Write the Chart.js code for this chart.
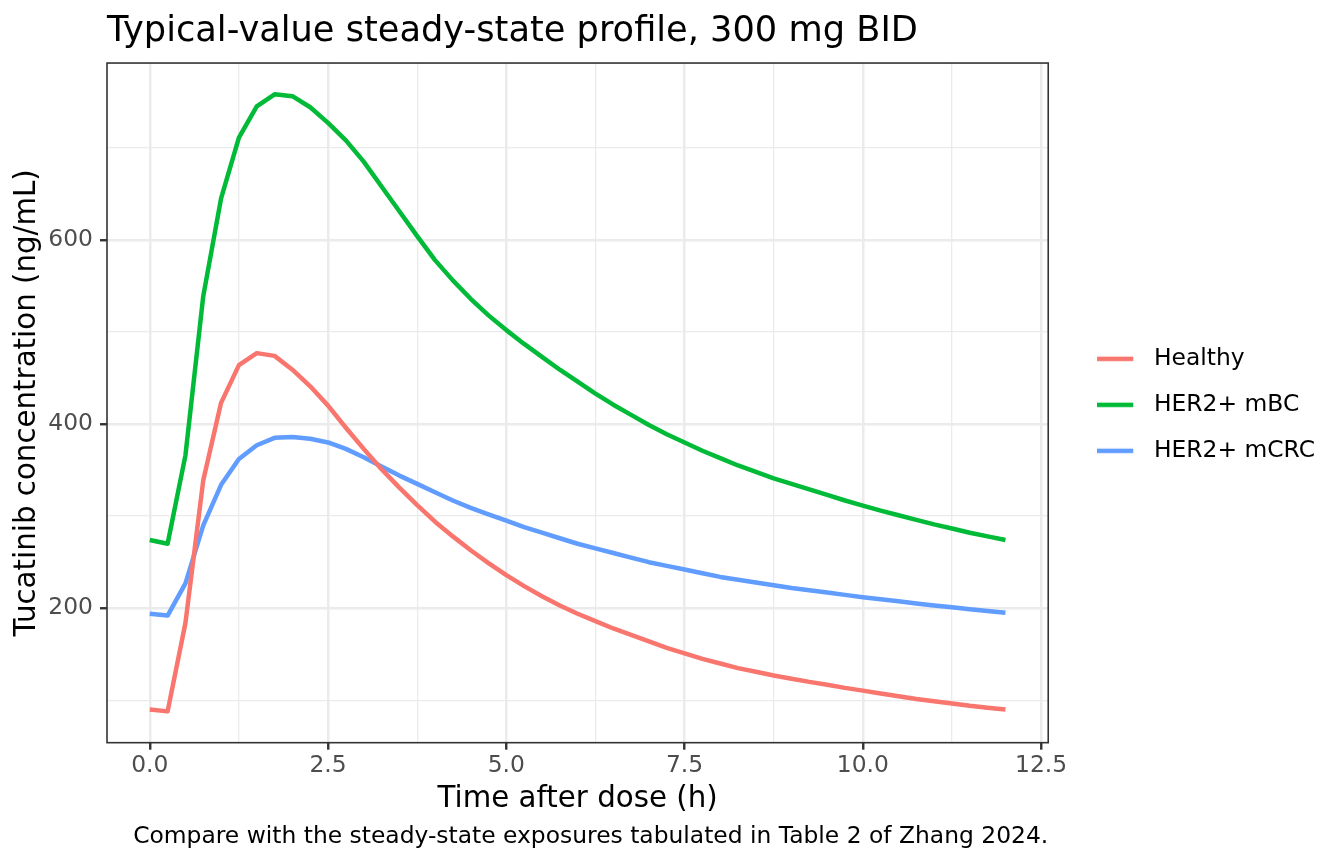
<!DOCTYPE html>
<html>
<head>
<meta charset="utf-8">
<script src="https://cdn.jsdelivr.net/npm/chart.js@4.4.1/dist/chart.umd.min.js"></script>
<style>
  html, body { margin: 0; padding: 0; background: #ffffff; }
  #wrap { width: 1344px; height: 864px; }
</style>
</head>
<body>
<div id="wrap"><canvas id="pkchart"></canvas></div>
<script>
// time grid (h) and typical-value concentrations (ng/mL)
const timeHours = [0, 0.25, 0.5, 0.75, 1, 1.25, 1.5, 1.75, 2, 2.25, 2.5, 2.75, 3, 3.25, 3.5, 3.75,
    4, 4.25, 4.5, 4.75, 5, 5.25, 5.5, 5.75, 6, 6.25, 6.5, 6.75, 7, 7.25, 7.5, 7.75,
    8, 8.25, 8.5, 8.75, 9, 9.25, 9.5, 9.75, 10, 10.25, 10.5, 10.75, 11, 11.25, 11.5, 11.75, 12]

const healthyConc = [90, 88, 184, 339, 423, 464, 477, 474, 459, 441, 420, 396, 373, 351, 331, 312,
    294, 278, 263, 249, 236, 224, 213, 203, 194, 186, 178, 171, 164, 157, 151, 145,
    140, 135, 131, 127, 123.5, 120, 117, 113.5, 110.5, 107.5, 104.5, 101.5, 99, 96.5, 94, 92, 90]

const mbcConc = [274, 270, 366, 539, 645, 711, 745, 758, 756, 744, 727, 708, 685, 658, 631, 604,
    578, 556, 536, 518, 502, 487, 473, 459, 446, 433, 421, 410, 399, 389, 380, 371,
    363, 355, 348, 341, 335, 329, 323, 317, 311.5, 306, 301, 296, 291, 286.5, 282, 278, 274]

const mcrcConc = [194, 192, 227, 290, 334, 362, 377, 385, 386, 384, 380, 373, 364, 354, 344, 335,
    326, 317, 309, 302, 295, 288, 282, 276, 270, 265, 260, 255, 250, 246, 242, 238,
    234, 231, 228, 225, 222, 219.5, 217, 214.5, 212, 209.7, 207.5, 205.2, 203, 201, 199, 197, 195]

const groupNames = ['Healthy', 'HER2+ mBC', 'HER2+ mCRC']
const groupColors = ['#F8766D', '#00BA38', '#619CFF']

const xMajorTicks = [0, 2.5, 5, 7.5, 10, 12.5]
const xMinorTicks = [1.25, 3.75, 6.25, 8.75, 11.25]
const yMajorTicks = [200, 400, 600]
const yMinorTicks = [100, 300, 500, 700]

const FONT = 'DejaVu Sans'
const LINE_W = 4.5

function toPoints(values) {
    return timeHours.map(function (t, i) { return { x: t, y: values[i] } })
}

function tickList(major, minor) {
    return major.concat(minor).sort(function (a, b) { return a - b }).map(function (v) { return { value: v } })
}

// legend key: a 36px line segment, with some blank room after it before the label
function legendKey(color) {
    const c = document.createElement('canvas')
    c.width = 45
    c.height = 10
    const g = c.getContext('2d')
    g.strokeStyle = color
    g.lineWidth = LINE_W
    g.beginPath()
    g.moveTo(0, 5)
    g.lineTo(36, 5)
    g.stroke()
    return c
}

// ggplot-style panel border on all four sides
const panelBorder = {
    id: 'panelBorder',
    afterDatasetsDraw(chart) {
        const a = chart.chartArea
        const ctx = chart.ctx
        ctx.save()
        ctx.strokeStyle = '#333333'
        ctx.lineWidth = 1.6
        ctx.strokeRect(a.left, a.top, a.right - a.left, a.bottom - a.top)
        ctx.restore()
    }
}

const seriesValues = [healthyConc, mbcConc, mcrcConc]

new Chart(document.getElementById('pkchart'), {
    type: 'line',
    data: {
        datasets: groupNames.map(function (name, i) {
            return {
                label: name,
                data: toPoints(seriesValues[i]),
                borderColor: groupColors[i],
                backgroundColor: groupColors[i],
                borderWidth: LINE_W,
                borderJoinStyle: 'round',
                pointRadius: 0,
                pointHoverRadius: 0,
                pointStyle: legendKey(groupColors[i]),
                tension: 0,
                fill: false
            }
        })
    },
    options: {
        responsive: true,
        maintainAspectRatio: false,
        animation: false,
        layout: { padding: { left: 0, right: 19, top: 0, bottom: 13 } },
        plugins: {
            title: {
                display: true,
                text: 'Typical-value steady-state profile, 300 mg BID',
                align: 'start',
                fullSize: false,
                color: '#000000',
                font: { family: FONT, size: 35.2, weight: 'normal' },
                padding: { top: 10.5, bottom: 10.3 }
            },
            subtitle: {
                display: true,
                position: 'bottom',
                text: 'Compare with the steady-state exposures tabulated in Table 2 of Zhang 2024.',
                align: 'end',
                fullSize: false,
                color: '#000000',
                font: { family: FONT, size: 23.4, weight: 'normal' },
                padding: { top: 6, bottom: 0 }
            },
            legend: {
                position: 'right',
                fullSize: false,
                maxWidth: 320,
                // empty title only nudges the key column down a little
                title: { display: true, text: '', font: { size: 1, lineHeight: 1 }, padding: { top: 3, bottom: 0 } },
                labels: {
                    usePointStyle: true,
                    pointStyleWidth: 45,
                    color: '#000000',
                    font: { family: FONT, size: 23.4 },
                    padding: 22.6
                }
            },
            tooltip: { enabled: false }
        },
        scales: {
            x: {
                type: 'linear',
                min: -0.6,
                max: 12.6,
                afterBuildTicks: function (axis) { axis.ticks = tickList(xMajorTicks, xMinorTicks) },
                ticks: {
                    autoSkip: false,
                    maxRotation: 0,
                    color: '#4D4D4D',
                    font: { family: FONT, size: 23.4 },
                    padding: 2,
                    callback: function (v) { return xMajorTicks.includes(v) ? v.toFixed(1) : '' }
                },
                grid: {
                    color: '#EBEBEB',
                    lineWidth: function (c) { return xMajorTicks.includes(c.tick.value) ? 2.5 : 1.3 },
                    tickLength: 7,
                    tickWidth: 2.4,
                    tickColor: function (c) { return xMajorTicks.includes(c.tick.value) ? '#333333' : 'rgba(0,0,0,0)' }
                },
                border: { display: false },
                title: {
                    display: true,
                    text: 'Time after dose (h)',
                    color: '#000000',
                    font: { family: FONT, size: 29.3, weight: 'normal' },
                    padding: { top: 0, bottom: 0 }
                }
            },
            y: {
                type: 'linear',
                min: 54,
                max: 792,
                afterBuildTicks: function (axis) { axis.ticks = tickList(yMajorTicks, yMinorTicks) },
                afterFit: function (axis) { axis.width = 107 },
                ticks: {
                    autoSkip: false,
                    color: '#4D4D4D',
                    font: { family: FONT, size: 23.4 },
                    padding: 7,
                    callback: function (v) { return yMajorTicks.includes(v) ? String(v) : '' }
                },
                grid: {
                    color: '#EBEBEB',
                    lineWidth: function (c) { return yMajorTicks.includes(c.tick.value) ? 2.5 : 1.3 },
                    tickLength: 7,
                    tickWidth: 2.4,
                    tickColor: function (c) { return yMajorTicks.includes(c.tick.value) ? '#333333' : 'rgba(0,0,0,0)' }
                },
                border: { display: false },
                title: {
                    display: true,
                    text: 'Tucatinib concentration (ng/mL)',
                    color: '#000000',
                    font: { family: FONT, size: 29.3, weight: 'normal' },
                    padding: { top: 10, bottom: 0 }
                }
            },
            gap: {
                type: 'linear',
                position: 'right',
                display: true,
                afterFit: function (axis) { axis.width = 26.4 },
                ticks: { display: false },
                grid: { display: false, drawOnChartArea: false },
                border: { display: false }
            }
        }
    },
    plugins: [panelBorder]
})
</script>
</body>
</html>
